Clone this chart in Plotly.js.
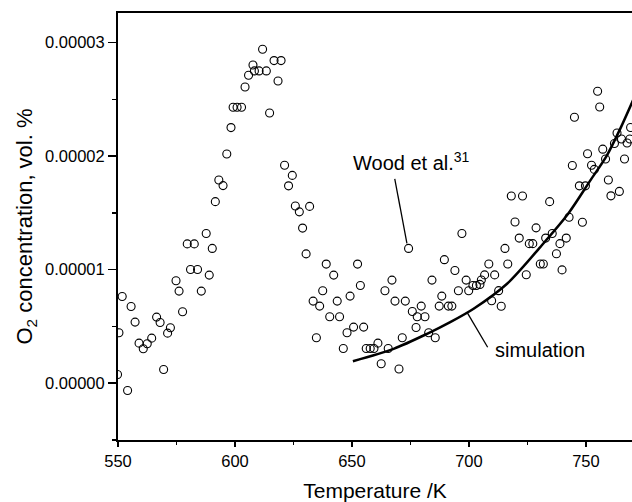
<!DOCTYPE html>
<html>
<head>
<meta charset="utf-8">
<script src="https://cdn.plot.ly/plotly-3.0.1.min.js"></script>
<style>
html,body{margin:0;padding:0;background:#fff;}
#chart{width:632px;height:502px;}
</style>
</head>
<body>
<div id="chart"></div>
<script>
// Measured points (Wood et al.): temperature in K, O2 concentration in vol. %
const temperatureK = [
549.8,550.4,551.8,554.1,555.6,557.3,559.0,560.8,562.5,564.4,
566.5,568.0,569.5,571.2,572.4,574.8,576.1,577.6,579.6,581.0,
582.6,584.0,585.6,587.7,589.0,590.3,591.6,593.1,594.9,596.5,
598.3,599.2,600.9,602.8,604.3,605.8,607.7,608.3,610.3,611.8,
613.4,614.8,616.7,618.4,619.7,621.2,622.9,624.5,625.8,627.5,
628.9,630.4,631.9,633.4,634.8,636.2,637.5,639.0,640.5,642.2,
643.7,644.7,646.3,647.9,649.2,650.7,652.4,653.6,655.0,656.1,
657.8,659.4,661.1,662.5,664.1,665.5,667.1,668.4,670.1,671.5,
672.8,674.2,675.8,677.4,677.9,679.6,681.2,682.8,684.2,685.6,
687.3,688.4,689.5,691.2,692.7,694.0,695.5,697.0,698.8,699.9,
701.7,703.2,704.7,705.3,706.7,708.5,709.7,711.0,712.7,713.8,
715.4,716.6,718.1,719.7,721.5,722.9,724.5,725.8,727.3,728.7,
730.5,731.8,732.8,734.5,735.6,737.4,738.9,739.8,741.6,742.8,
744.2,745.1,747.2,748.5,749.8,750.7,752.4,753.6,755.0,755.9,
757.2,758.4,759.6,760.7,762.2,763.3,764.3,765.2,766.5,767.6,
768.8,769.1
];
const o2Measured = [
0.077e-5,0.444e-5,0.764e-5,-0.064e-5,0.676e-5,0.538e-5,0.353e-5,0.303e-5,0.347e-5,0.397e-5,
0.582e-5,0.535e-5,0.121e-5,0.441e-5,0.488e-5,0.902e-5,0.811e-5,0.629e-5,1.227e-5,1.002e-5,
1.227e-5,1.002e-5,0.811e-5,1.319e-5,0.952e-5,1.187e-5,1.599e-5,1.789e-5,1.740e-5,2.018e-5,
2.251e-5,2.430e-5,2.430e-5,2.430e-5,2.609e-5,2.712e-5,2.802e-5,2.750e-5,2.750e-5,2.941e-5,
2.750e-5,2.379e-5,2.841e-5,2.661e-5,2.841e-5,1.919e-5,1.738e-5,1.830e-5,1.560e-5,1.509e-5,
1.366e-5,1.139e-5,1.557e-5,0.723e-5,0.400e-5,0.679e-5,0.814e-5,1.049e-5,0.585e-5,0.952e-5,
0.723e-5,0.585e-5,0.306e-5,0.444e-5,0.767e-5,0.494e-5,1.049e-5,0.861e-5,0.494e-5,0.306e-5,
0.306e-5,0.306e-5,0.353e-5,0.171e-5,0.814e-5,0.306e-5,0.908e-5,0.723e-5,0.125e-5,0.400e-5,
0.723e-5,1.187e-5,0.632e-5,0.491e-5,0.585e-5,0.679e-5,0.585e-5,0.444e-5,0.908e-5,0.400e-5,
0.679e-5,0.767e-5,1.088e-5,0.679e-5,0.679e-5,0.993e-5,0.814e-5,1.319e-5,0.908e-5,0.814e-5,
0.861e-5,0.861e-5,0.870e-5,0.909e-5,0.954e-5,1.050e-5,0.726e-5,0.954e-5,0.815e-5,0.678e-5,
1.187e-5,1.050e-5,1.648e-5,1.419e-5,1.278e-5,1.648e-5,0.955e-5,1.229e-5,1.229e-5,1.368e-5,
1.050e-5,1.050e-5,1.278e-5,1.599e-5,1.319e-5,1.140e-5,1.229e-5,0.998e-5,1.278e-5,1.462e-5,
1.917e-5,2.342e-5,1.738e-5,1.418e-5,1.738e-5,2.020e-5,1.919e-5,1.883e-5,2.571e-5,2.432e-5,
2.061e-5,1.974e-5,1.789e-5,1.650e-5,2.111e-5,2.203e-5,1.689e-5,2.150e-5,1.974e-5,2.115e-5,
2.150e-5,2.252e-5
];
// Simulation curve
const simTemperatureK = [650.4,667.8,682.1,692.0,702.0,716.3,730.5,741.9,751.9,759.0,764.7,769.8,772.0];
const simO2 = [0.194e-5,0.303e-5,0.435e-5,0.538e-5,0.656e-5,0.876e-5,1.199e-5,1.478e-5,1.786e-5,2.007e-5,2.242e-5,2.476e-5,2.58e-5];
// Axis ticks
const xTickVals = [550,600,650,700,750];
const yTickVals = [0,1e-5,2e-5,3e-5];
const yTickText = ['0.00000','0.00001','0.00002','0.00003'];

const FONT = 'Liberation Sans, Arial, Helvetica, sans-serif';

const traces = [
  {
    x: temperatureK, y: o2Measured, type: 'scatter', mode: 'markers',
    marker: {symbol: 'circle-open', size: 8, color: '#000', line: {width: 1.1, color: '#000'}},
    cliponaxis: true, hoverinfo: 'skip'
  },
  {
    x: simTemperatureK, y: simO2, type: 'scatter', mode: 'lines',
    line: {color: '#000', width: 2.5, shape: 'spline', smoothing: 0.8},
    hoverinfo: 'skip'
  }
];

const layout = {
  width: 632, height: 502,
  margin: {l: 118, r: 0, t: 13, b: 62},
  paper_bgcolor: '#fff', plot_bgcolor: '#fff',
  showlegend: false,
  font: {family: FONT, color: '#000', size: 17},
  xaxis: {
    range: [550, 769.7], tickvals: xTickVals, ticktext: xTickVals.map(String),
    ticks: 'outside', ticklen: 5, tickwidth: 1.5, tickcolor: '#000',
    minor: {dtick: 25, tick0: 525, ticks: 'outside', ticklen: 3, tickwidth: 1.5, tickcolor: '#000'},
    showline: true, linecolor: '#000', linewidth: 2, mirror: true,
    showgrid: false, zeroline: false,
    tickfont: {family: FONT, size: 16.5, color: '#000'},
    title: {text: 'Temperature /K', font: {family: FONT, size: 21, color: '#000'}, standoff: 15}
  },
  yaxis: {
    range: [-0.5e-5, 3.26e-5], tickvals: yTickVals, ticktext: yTickText,
    ticks: 'outside', ticklen: 8, tickwidth: 1.5, tickcolor: '#000',
    minor: {dtick: 0.5e-5, tick0: 0, ticks: 'outside', ticklen: 4, tickwidth: 1.5, tickcolor: '#000'},
    showline: true, linecolor: '#000', linewidth: 2, mirror: false,
    showgrid: false, zeroline: false,
    tickfont: {family: FONT, size: 16.5, color: '#000'},
    title: {text: 'O<sub>2</sub> concentration, vol. %', font: {family: FONT, size: 22, color: '#000'}, standoff: 6}
  },
  annotations: [
    {x: 675.6, y: 1.954e-5, xref: 'x', yref: 'y', text: 'Wood et al.<sup>31</sup>',
     showarrow: false, font: {family: FONT, size: 20, color: '#000'}},
    {x: 730.3, y: 0.29e-5, xref: 'x', yref: 'y', text: 'simulation',
     showarrow: false, font: {family: FONT, size: 20, color: '#000'}}
  ],
  shapes: [
    {type: 'line', xref: 'x', yref: 'y', x0: 668.3, y0: 1.80e-5, x1: 673.5, y1: 1.231e-5,
     line: {color: '#000', width: 1.3}},
    {type: 'line', xref: 'x', yref: 'y', x0: 699.4, y0: 0.617e-5, x1: 708.0, y1: 0.317e-5,
     line: {color: '#000', width: 1.3}}
  ]
};

Plotly.newPlot('chart', traces, layout, {displayModeBar: false, staticPlot: true});
</script>
</body>
</html>
